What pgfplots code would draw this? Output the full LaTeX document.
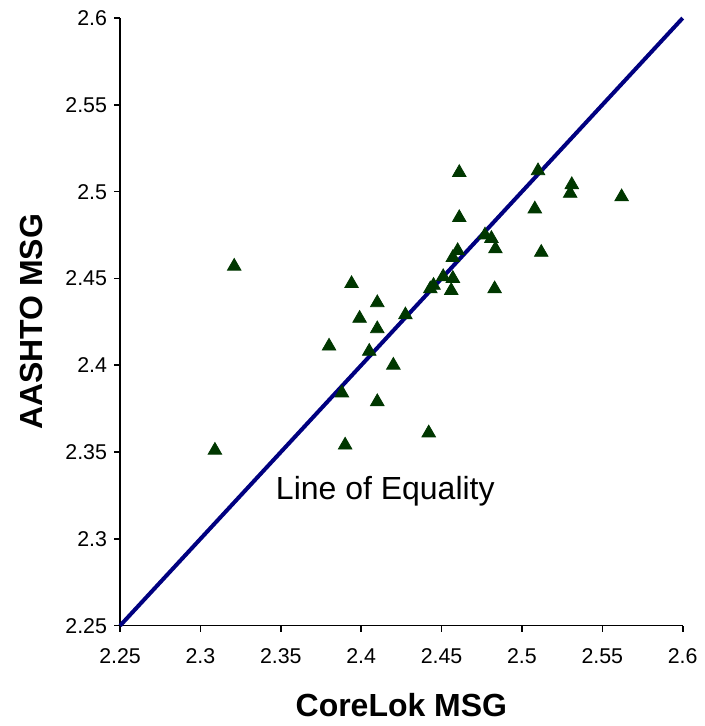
\documentclass[border=0pt]{standalone}
\usepackage{fontspec}
\setmainfont{Liberation Sans}
\usepackage{pgfplots}
\pgfplotsset{compat=1.18}
\definecolor{markgreen}{RGB}{0,55,0}
\definecolor{eqblue}{RGB}{0,0,128}
\begin{document}
\begin{tikzpicture}
\begin{axis}[
  scale only axis,
  width=281.5pt, height=304pt,
  xmin=2.25, xmax=2.6,
  ymin=2.25, ymax=2.6,
  xtick={2.25,2.3,2.35,2.4,2.45,2.5,2.55,2.6},
  ytick={2.25,2.3,2.35,2.4,2.45,2.5,2.55,2.6},
  xticklabels={2.25,2.3,2.35,2.4,2.45,2.5,2.55,2.6},
  yticklabels={2.25,2.3,2.35,2.4,2.45,2.5,2.55,2.6},
  axis x line=bottom, axis y line=left,
  axis line style={-, line width=0.8pt},
  tick style={line width=0.8pt, black},
  tick align=outside,
  major tick length=3pt,
  minor tick num=0,
  tick label style={font=\fontsize{10.7}{12}\selectfont},
  xticklabel style={yshift=-5pt},
  /pgf/number format/assume math mode=true,
  xlabel={\bfseries CoreLok MSG},
  ylabel={\bfseries AASHTO MSG},
  label style={font=\fontsize{16}{18}\selectfont, inner sep=0pt},
  xlabel style={at={(axis description cs:0.5,-0.13)}, anchor=center},
  ylabel style={at={(axis description cs:-0.158,0.5)}, anchor=center},
  clip=false,
]
% picture frame, so the page has the reference's proportions
\path (axis cs:2.1753,2.1922) rectangle (axis cs:2.6105,2.6104);
\addplot[eqblue, line width=2pt] coordinates {(2.25,2.25) (2.6,2.6)};
\addplot[only marks, mark=triangle*, mark size=3.9pt,
  mark options={fill=markgreen, draw=markgreen}]
coordinates {
(2.309,2.351) (2.321,2.457) (2.380,2.411) (2.394,2.447) (2.399,2.427)
(2.410,2.436) (2.410,2.421) (2.388,2.384) (2.390,2.354) (2.405,2.408)
(2.420,2.400) (2.410,2.379) (2.4275,2.429) (2.442,2.361)
(2.461,2.511) (2.510,2.512) (2.531,2.504) (2.530,2.499) (2.562,2.497)
(2.461,2.485) (2.508,2.490) (2.477,2.475) (2.481,2.473) (2.4835,2.467)
(2.512,2.465) (2.460,2.466) (2.457,2.462) (2.451,2.451) (2.457,2.450)
(2.445,2.446) (2.443,2.444) (2.456,2.443) (2.483,2.444)
};
\node[font=\fontsize{16}{18}\selectfont] at (axis cs:2.415,2.3275) {Line of Equality};
\end{axis}
\end{tikzpicture}
\end{document}
